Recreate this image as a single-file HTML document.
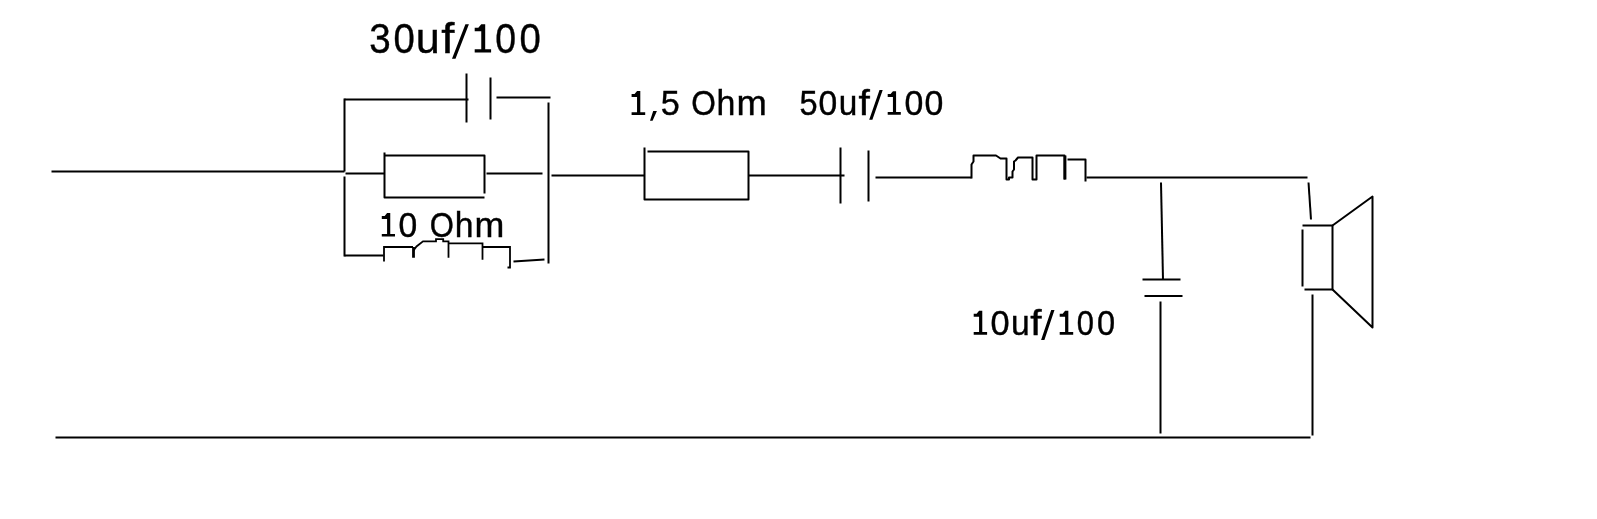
<!DOCTYPE html>
<html><head><meta charset="utf-8">
<style>
html,body{margin:0;padding:0;background:#fff;width:1597px;height:519px;overflow:hidden}
svg{display:block;will-change:transform}
text{font-family:"Liberation Sans",sans-serif;fill:#000;stroke:#000;stroke-width:0.4}
</style></head>
<body>
<svg width="1597" height="519" viewBox="0 0 1597 519">
<g transform="translate(0.5,0.5)">
<g fill="none" stroke="#000" stroke-width="2.0" stroke-linejoin="round">
<path d="M51,171 H344"/>
<path d="M55,437 H1310"/>
<path d="M344,98 V171 M344,176 V256"/>
<path d="M344,99 H468"/>
<path d="M466,73 V122"/>
<path d="M490,77 V119"/>
<path d="M496,97 H550"/>
<path d="M548,102 V263"/>
<path d="M384,152 V197 H484 M384,155 H484 V193"/>
<path d="M345,173 H384"/>
<path d="M486,173 H542"/>
<path d="M551,175 H644"/>
<path d="M344,255 H383"/>
<path d="M513,261 L544,259"/>
<path d="M644,147 V199 H748 V151 H647"/>
<path d="M748,175 H844"/>
<path d="M840,147 V203"/>
<path d="M868,150 V201"/>
<path d="M875,177 H971"/>
<path d="M971,178 V164 L973,161 V155 H995.5 L1000,158 H1006 V179 H1008.5 V177 H1012 V171 L1013.5,169 V161 L1015,160 L1017.5,157 H1032 V179 H1036 V155 H1064 V179"/>
<path d="M1067,159 H1085 V181"/>
<path d="M1086,177 H1307"/>
<path d="M1308,182 L1310.5,219"/>
<path d="M1160.5,182 L1162.5,279"/>
<path d="M1142,279 H1180"/>
<path d="M1144,295.4 H1182"/>
<path d="M1160,301 V433"/>
<path d="M1312,294 V435"/>
<path d="M1302,225 H1332 V289 H1304"/>
<path d="M1302,229 V286"/>
<path d="M1332,225 L1372,196 V327 L1332,289"/>
</g>
<path d="M383.5,261 V246.5 H412.5 M413,250 L416,246 L422.5,240.8 H435.5 V238.7 H442.7 V240.8 H448 V257.3 M448,242.8 H482 V259.3 M482,246.5 H509.5 V267 H507" fill="none" stroke="#000" stroke-width="1.8"/>
<path d="M413,246.5 V257.3 M1064.5,155 V179" fill="none" stroke="#000" stroke-width="2.8"/>
</g>
<path d="M465.4,24.15 L468.9,24.15 L455.5,58.8 L452,58.8 Z M474.70,27.72 L478.31,27.72 L481.26,24.30 H485.20 V49.35 H491.10 V52.60 H474.70 V49.35 H481.26 V31.29 H474.70 Z M631.60,93.98 L634.59,93.98 L637.04,91.10 H640.30 V112.16 H645.20 V114.90 H631.60 V112.16 H637.04 V96.98 H631.60 Z M653.2,111 L656.9,111 L652.6,120.8 L650,120.8 Z M879.5,90 L882.7,90 L872.4,119.7 L869.2,119.7 Z M887.70,94.06 L890.58,94.06 L892.94,91.20 H896.08 V112.09 H900.80 V114.80 H887.70 V112.09 H892.94 V97.03 H887.70 Z M381.80,215.94 L384.70,215.94 L387.08,213.10 H390.25 V233.90 H395.00 V236.60 H381.80 V233.90 H387.08 V218.90 H381.80 Z M973.70,313.69 L976.65,313.69 L979.06,310.80 H982.28 V331.95 H987.10 V334.70 H973.70 V331.95 H979.06 V316.70 H973.70 Z M1051.2,310 L1054.5,310 L1044.4,339.9 L1041.1,339.9 Z M1059.70,313.69 L1062.67,313.69 L1065.10,310.80 H1068.34 V331.95 H1073.20 V334.70 H1059.70 V331.95 H1065.10 V316.70 H1059.70 Z" fill="#000"/>
<text x="369.33" y="52.6" font-size="41.8" textLength="21.47" lengthAdjust="spacingAndGlyphs">3</text>
<text x="393.41" y="52.6" font-size="41.8" textLength="21.29" lengthAdjust="spacingAndGlyphs">0</text>
<text x="415.70" y="52.6" font-size="41.8" textLength="23.95" lengthAdjust="spacingAndGlyphs">u</text>
<text x="441.24" y="52.6" font-size="41.8" textLength="13.11" lengthAdjust="spacingAndGlyphs">f</text>
<text x="495.34" y="52.6" font-size="41.8" textLength="20.83" lengthAdjust="spacingAndGlyphs">0</text>
<text x="519.41" y="52.6" font-size="41.8" textLength="21.29" lengthAdjust="spacingAndGlyphs">0</text>
<text x="660.63" y="114.9" font-size="34.4" textLength="19.01" lengthAdjust="spacingAndGlyphs">5</text>
<text x="691.21" y="114.9" font-size="34.4" textLength="24.60" lengthAdjust="spacingAndGlyphs">O</text>
<text x="716.56" y="114.9" font-size="34.4" textLength="18.85" lengthAdjust="spacingAndGlyphs">h</text>
<text x="736.50" y="114.9" font-size="34.4" textLength="30.30" lengthAdjust="spacingAndGlyphs">m</text>
<text x="799.50" y="114.8" font-size="34.4" textLength="18.07" lengthAdjust="spacingAndGlyphs">5</text>
<text x="818.39" y="114.8" font-size="34.4" textLength="18.73" lengthAdjust="spacingAndGlyphs">0</text>
<text x="838.73" y="114.8" font-size="34.4" textLength="18.58" lengthAdjust="spacingAndGlyphs">u</text>
<text x="858.43" y="114.8" font-size="34.4" textLength="11.32" lengthAdjust="spacingAndGlyphs">f</text>
<text x="904.48" y="114.8" font-size="34.4" textLength="18.85" lengthAdjust="spacingAndGlyphs">0</text>
<text x="924.58" y="114.8" font-size="34.4" textLength="18.85" lengthAdjust="spacingAndGlyphs">0</text>
<text x="398.39" y="236.6" font-size="34.4" textLength="18.73" lengthAdjust="spacingAndGlyphs">0</text>
<text x="429.74" y="236.6" font-size="34.4" textLength="24.14" lengthAdjust="spacingAndGlyphs">O</text>
<text x="454.68" y="236.6" font-size="34.4" textLength="18.71" lengthAdjust="spacingAndGlyphs">h</text>
<text x="474.64" y="236.6" font-size="34.4" textLength="29.83" lengthAdjust="spacingAndGlyphs">m</text>
<text x="990.56" y="334.7" font-size="34.4" textLength="19.08" lengthAdjust="spacingAndGlyphs">0</text>
<text x="1010.91" y="334.7" font-size="34.4" textLength="18.71" lengthAdjust="spacingAndGlyphs">u</text>
<text x="1030.33" y="334.7" font-size="34.4" textLength="11.32" lengthAdjust="spacingAndGlyphs">f</text>
<text x="1076.69" y="334.7" font-size="34.4" textLength="17.22" lengthAdjust="spacingAndGlyphs">0</text>
<text x="1097.03" y="334.7" font-size="34.4" textLength="18.15" lengthAdjust="spacingAndGlyphs">0</text>
</svg>
</body></html>
